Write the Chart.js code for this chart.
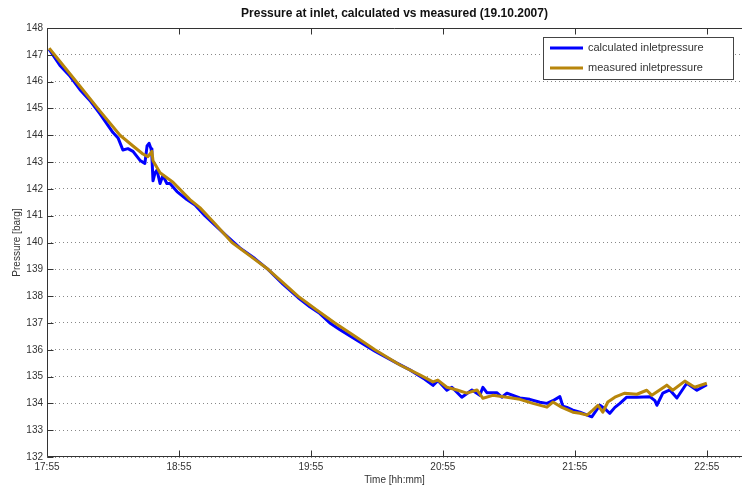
<!DOCTYPE html>
<html>
<head>
<meta charset="utf-8">
<script src="https://cdn.jsdelivr.net/npm/chart.js@4.4.0/dist/chart.umd.min.js"></script>
<style>
  html, body { margin: 0; padding: 0; background: #fff; }
  #wrap { width: 742px; height: 489px; }
</style>
</head>
<body>
<div id="wrap"><canvas id="chart" width="742" height="489"></canvas></div>
<script>
// minutes after 17:55
const xTickMinutes = [0, 60, 120, 180, 240, 300];
const startClock = [17, 55];

const calcTime = [1, 5.9, 10.5, 15, 19.5, 24.1, 30, 32.3, 34.5, 36.8, 39.1, 42.3, 44.5, 45.5, 46.4, 47.3, 47.7, 48.2, 49.1, 50, 51.4, 52.7, 54.5, 55.9, 59.1, 63.6, 67.3, 71.8, 76.4, 80.9, 87.7, 94.5, 100.5, 107.3, 114.1, 119.5, 124.1, 128.6, 133.2, 140, 149.1, 159.1, 165, 171.8, 175.5, 177.7, 181.8, 184.1, 188.6, 193.2, 196.8, 198.2, 200, 204.5, 206.8, 209.1, 215, 219.5, 224.1, 227.3, 230, 233.2, 234.5, 236.4, 239.1, 242.3, 247.7, 251.4, 253.6, 255.9, 258.2, 260.5, 263.6, 268.2, 274.1, 276.4, 277.3, 280, 283.2, 286.4, 290.9, 295.5, 300];
const calcValues = [147.2, 146.6, 146.2, 145.7, 145.3, 144.8, 144.1, 143.9, 143.45, 143.5, 143.4, 143.06, 142.95, 143.6, 143.7, 143.5, 143.2, 142.3, 142.6, 142.7, 142.2, 142.5, 142.2, 142.2, 141.9, 141.6, 141.4, 141.0, 140.65, 140.3, 139.8, 139.4, 139.0, 138.45, 137.95, 137.6, 137.35, 137.0, 136.75, 136.4, 135.95, 135.5, 135.25, 134.9, 134.67, 134.85, 134.49, 134.6, 134.23, 134.5, 134.3, 134.6, 134.4, 134.4, 134.23, 134.38, 134.2, 134.15, 134.04, 134.0, 134.1, 134.25, 133.9, 133.85, 133.75, 133.67, 133.5, 133.93, 133.8, 133.63, 133.85, 134.0, 134.23, 134.23, 134.25, 134.1, 133.93, 134.38, 134.5, 134.2, 134.75, 134.49, 134.7];

const measTime = [1, 5.9, 15, 24.1, 33.2, 39.1, 43.6, 45.9, 47.7, 48.2, 51.4, 57.3, 65, 69.5, 76.4, 84.1, 92.3, 100.5, 107.3, 114.1, 122.3, 130.9, 140, 149.1, 160.5, 169.5, 175.5, 177.7, 181.8, 186.4, 190.9, 195.5, 198.2, 202.7, 209.1, 215, 220.9, 227.3, 230, 234.1, 239.1, 242.3, 245.5, 248.2, 250.5, 252.7, 255, 258.2, 262.7, 268.2, 272.7, 275, 281.8, 284.5, 290, 294.5, 300];
const measValues = [147.25, 146.75, 145.83, 144.9, 144.0, 143.6, 143.3, 143.2, 143.4, 143.05, 142.6, 142.25, 141.6, 141.3, 140.7, 140.0, 139.5, 139.0, 138.5, 138.0, 137.5, 137.0, 136.5, 136.0, 135.43, 135.06, 134.8, 134.87, 134.6, 134.5, 134.38, 134.5, 134.19, 134.3, 134.23, 134.15, 134.0, 133.86, 134.05, 133.85, 133.67, 133.63, 133.56, 133.75, 133.93, 133.67, 134.05, 134.23, 134.38, 134.34, 134.49, 134.3, 134.68, 134.49, 134.83, 134.6, 134.75];

const seriesNames = ["calculated inletpressure", "measured inletpressure"];
const seriesColors = ["#0000ff", "#b8860b"];

function clockLabel(min) {
  const t = startClock[0] * 60 + startClock[1] + min;
  const h = Math.floor(t / 60), m = Math.round(t % 60);
  return h + ":" + (m < 10 ? "0" + m : m);
}

const font = "'Liberation Sans', Arial, sans-serif";

const framePlugin = {
  id: "frame",
  afterDraw(chart) {
    const { ctx, chartArea: a, scales } = chart;
    const L = Math.round(a.left) + 0.5, T = Math.round(a.top) + 0.5, B = Math.round(a.bottom) - 0.5;
    ctx.save();
    ctx.strokeStyle = "#333";
    ctx.lineWidth = 1;
    ctx.beginPath();
    ctx.moveTo(L, T); ctx.lineTo(a.right, T);
    ctx.moveTo(L, T); ctx.lineTo(L, B);
    ctx.moveTo(L, B); ctx.lineTo(a.right, B);
    // inward tick marks
    xTickMinutes.forEach(v => {
      const px = Math.round(scales.x.getPixelForValue(v)) + 0.5;
      ctx.moveTo(px, B); ctx.lineTo(px, B - 6);
      ctx.moveTo(px, T); ctx.lineTo(px, T + 6);
    });
    scales.y.ticks.forEach(t => {
      const py = Math.round(scales.y.getPixelForValue(t.value)) + 0.5;
      ctx.moveTo(L, py); ctx.lineTo(L + 6, py);
    });
    ctx.stroke();

    // legend box
    const bx = 543.5, by = 37.5, bw = 190, bh = 42;
    ctx.fillStyle = "#fff";
    ctx.fillRect(bx, by, bw, bh);
    ctx.strokeStyle = "#444";
    ctx.strokeRect(bx, by, bw, bh);
    ctx.font = "11px " + font;
    ctx.textBaseline = "middle";
    ctx.textAlign = "left";
    chart.data.datasets.forEach((ds, i) => {
      const yy = 48 + i * 20;
      ctx.strokeStyle = ds.borderColor;
      ctx.lineWidth = 3;
      ctx.beginPath();
      ctx.moveTo(550, yy); ctx.lineTo(583, yy);
      ctx.stroke();
      ctx.fillStyle = "#333";
      ctx.fillText(ds.label, 588, yy);
    });
    ctx.restore();
  }
};

new Chart(document.getElementById("chart"), {
  type: "line",
  data: {
    datasets: [
      {
        label: seriesNames[0],
        data: calcTime.map((t, i) => ({ x: t, y: calcValues[i] })),
        borderColor: seriesColors[0],
        borderWidth: 3,
        borderJoinStyle: "round",
        pointRadius: 0,
        tension: 0,
        order: 1
      },
      {
        label: seriesNames[1],
        data: measTime.map((t, i) => ({ x: t, y: measValues[i] })),
        borderColor: seriesColors[1],
        borderWidth: 3,
        borderJoinStyle: "round",
        pointRadius: 0,
        tension: 0,
        order: 0
      }
    ]
  },
  options: {
    responsive: false,
    animation: false,
    devicePixelRatio: 1,
    layout: { padding: { left: 0, right: 0, top: 0, bottom: 0 } },
    plugins: {
      legend: { display: false },
      tooltip: { enabled: false },
      title: {
        display: true,
        fullSize: false,
        text: "Pressure at inlet, calculated vs measured (19.10.2007)",
        color: "#111",
        font: { family: font, size: 12, weight: "bold" },
        padding: { top: 6, bottom: 7.6 }
      }
    },
    scales: {
      x: {
        type: "linear",
        min: 0,
        max: 316,
        afterFit: s => { s.height = 32; },
        afterBuildTicks: s => { s.ticks = xTickMinutes.map(v => ({ value: v })); },
        grid: { display: false, drawTicks: false },
        border: { display: false },
        ticks: {
          color: "#333",
          padding: 4,
          maxRotation: 0,
          autoSkip: false,
          font: { family: font, size: 10 },
          callback: v => clockLabel(v)
        },
        title: {
          display: true,
          text: "Time [hh:mm]",
          color: "#333",
          font: { family: font, size: 10 },
          padding: { top: 0, bottom: 3 }
        }
      },
      y: {
        min: 132,
        max: 148,
        afterFit: s => { s.width = 47; },
        grid: {
          drawTicks: false,
          color: "#888",
          lineWidth: 1
        },
        border: { display: false, dash: [1, 3] },
        ticks: {
          stepSize: 1,
          color: "#333",
          padding: 4,
          font: { family: font, size: 10 }
        },
        title: {
          display: true,
          text: "Pressure [barg]",
          color: "#333",
          font: { family: font, size: 10 },
          padding: { top: 11, bottom: 0 }
        }
      }
    }
  },
  plugins: [framePlugin]
});
</script>
</body>
</html>
